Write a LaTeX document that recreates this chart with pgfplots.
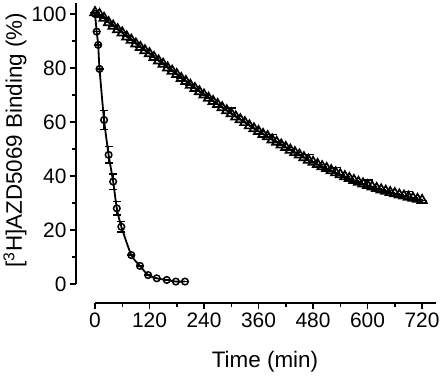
\documentclass[border=0pt]{standalone}
\usepackage{pgfplots}
\usepackage{pgfplotstable}
\pgfplotsset{compat=1.18}
\usepackage{fontspec}
\setmainfont{Liberation Sans}

\pgfplotstableread{
t y e
0 100 0
3.7 93.4 0
7 88.5 0
10 79.6 0
20 60.7 3.5
30 47.8 3
40 37.9 2.8
48 28.0 2.5
58 21.2 2
80 10.7 0
99 6.7 0
117 3.3 0
136 2.1 0
158 1.5 0
178 0.9 0
198 0.9 0
}\fast

\pgfplotstableread{
t y e
0 100.5 0
10 99.8 0
20 98.4 0
30 96.8 0
40 95.5 0
50 94.2 0
60 93.0 0
70 91.5 0
80 90.3 0
90 88.9 0
100 87.6 0
110 86.4 0
120 85.3 0
130 83.9 0
140 82.6 0
150 81.4 0
160 80.0 0
170 78.8 0
180 77.6 0
190 76.1 0
200 75.0 0
210 73.6 0
220 72.4 0
230 71.2 0
240 70.0 0
250 68.8 0
260 67.6 0
270 66.5 0
280 65.3 0
290 64.2 0
300 63.1 2
310 61.9 0
320 60.9 0
330 59.8 0
340 58.6 0
350 57.5 0
360 56.5 0
370 55.4 0
380 54.6 0
390 53.4 2
400 52.5 0
410 51.5 0
420 50.6 0
430 49.6 0
440 48.7 0
450 47.8 0
460 46.8 0
470 45.9 2
480 45.1 0
490 44.3 0
500 43.5 0
510 42.8 0
520 42.0 0
530 41.2 2
540 40.5 0
550 39.8 0
560 39.1 0
570 38.4 0
580 37.7 0
590 37.1 0
600 36.5 2
610 36.0 0
620 35.4 0
630 34.9 0
640 34.4 0
650 33.9 0
660 33.5 0
670 33.0 0
680 32.6 0
690 32.2 2
700 31.8 0
710 31.4 0
720 31.0 0
}\slow

\begin{document}
\begin{tikzpicture}
\path[use as bounding box] (-95bp,-95bp) rectangle (345bp,284bp);
\begin{axis}[
  scale only axis, width=340.7bp, height=281bp,
  xmin=0, xmax=750, ymin=0, ymax=104,
  axis x line*=bottom, axis y line*=left,
  axis line style={-, line width=1.8bp},
  x axis line style={yshift=-19bp},
  y axis line style={xshift=-19bp},
  xtick={0,120,...,720}, ytick={0,20,...,100},
  minor x tick num=1, minor y tick num=1,
  tick align=outside,
  major tick length=6bp, minor tick length=4bp,
  every tick/.style={black, line width=1.5bp},
  xtick style={yshift=-19bp}, ytick style={xshift=-19bp},
  xticklabel style={yshift=-19bp},
  yticklabel style={xshift=-19bp},
  /pgf/number format/assume math mode=true,
  tick label style={font=\fontsize{21}{25}\selectfont},
  clip=false,
  xlabel={Time (min)},
  ylabel={[\textsuperscript{3}H]AZD5069 Binding (\%)},
  every axis x label/.style={at={(axis description cs:0.499,-0.278)}, anchor=center, font=\fontsize{22.5}{27}\selectfont},
  every axis y label/.style={at={(axis description cs:-0.2348,0.5125)}, anchor=center, rotate=90, font=\fontsize{22.5}{27}\selectfont},
]
\addplot[black, line width=1.8bp, smooth, tension=0.4] table[x=t,y=y] {\fast};
\addplot[black, line width=1.8bp, smooth] table[x=t,y=y] {\slow};
\addplot[black, only marks, mark=o, mark size=3.3bp, mark options={line width=1.5bp, fill=white},
  error bars/.cd, y dir=both, y explicit,
  error bar style={line width=1.3bp}, error mark options={rotate=90, mark size=4bp, line width=1.3bp}]
  table[x=t,y=y,y error=e] {\fast};
\addplot[black, only marks, mark=triangle, mark size=5.4bp, mark options={line width=1.7bp, fill=white},
  error bars/.cd, y dir=plus, y explicit,
  error bar style={line width=1.3bp}, error mark options={rotate=90, mark size=5bp, line width=1.3bp}]
  table[x=t,y=y,y error=e] {\slow};
\end{axis}
\end{tikzpicture}
\end{document}
